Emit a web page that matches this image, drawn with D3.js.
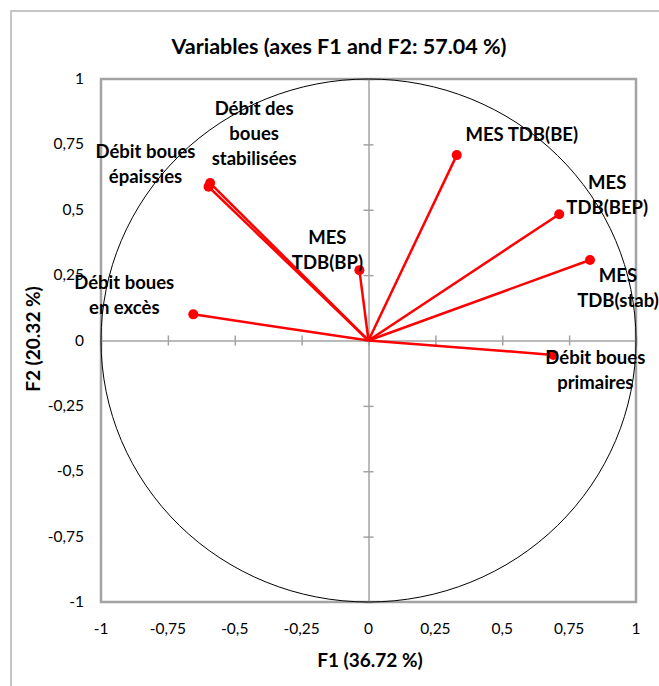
<!DOCTYPE html>
<html>
<head>
<meta charset="utf-8">
<script src="https://cdn.jsdelivr.net/npm/d3@7"></script>
<style>
  html, body { margin: 0; padding: 0; background: #fff; }
  svg { display: block; font-family: Lato, "Open Sans", sans-serif; }
</style>
</head>
<body>
<svg id="chart" width="659" height="686"></svg>
<script>
// Variable coordinates on the first two factorial axes
const variables = [
  "MES TDB(BE)", "MES TDB(BEP)", "MES TDB(stab)", "Débit boues primaires",
  "MES TDB(BP)", "Débit boues en excès", "Débit boues épaissies", "Débit des boues stabilisées"
];
const f1Values = [0.330, 0.713, 0.828, 0.691, -0.034, -0.655, -0.598, -0.592];
const f2Values = [0.709, 0.483, 0.308, -0.055, 0.269, 0.100, 0.588, 0.602];
const tickValues = [-1, -0.75, -0.5, -0.25, 0, 0.25, 0.5, 0.75, 1];
const tickLabels = ["-1", "-0,75", "-0,5", "-0,25", "0", "0,25", "0,5", "0,75", "1"];

// Label text lines and their offsets from each point (layout only)
const labelLines = [
  ["MES TDB(BE)"], ["MES", "TDB(BEP)"], ["MES", "TDB(stab)"], ["Débit boues", "primaires"],
  ["MES", "TDB(BP)"], ["Débit boues", "en excès"], ["Débit boues", "épaissies"],
  ["Débit des", "boues", "stabilisées"]
];
const labelOffsets = [
  [65, -21], [48, -32], [28, 15], [42, 2],
  [-32, -33], [-69, -32], [-63, -36], [44, -75]
];

const svg = d3.select("#chart");
const plotLeft = 101, plotRight = 636, plotTop = 79, plotBottom = 602;

const x = d3.scaleLinear().domain([-1, 1]).range([plotLeft, plotRight]);
const y = d3.scaleLinear().domain([-1, 1]).range([plotBottom, plotTop]);

const gridColor = "#a3a3a3";

// chart frame
svg.append("rect")
  .attr("x", 11).attr("y", 11).attr("width", 720).attr("height", 720)
  .attr("fill", "none").attr("stroke", "#b4b4b4").attr("stroke-width", 1.5);

// title
svg.append("text")
  .attr("x", 339).attr("y", 54)
  .attr("text-anchor", "middle")
  .attr("font-weight", "bold").attr("font-size", 21.5).attr("fill", "#000")
  .text("Variables (axes F1 and F2: 57.04 %)");

// plot border
svg.append("rect")
  .attr("x", plotLeft).attr("y", plotTop)
  .attr("width", plotRight - plotLeft).attr("height", plotBottom - plotTop)
  .attr("fill", "none").attr("stroke", gridColor).attr("stroke-width", 2.5);

// zero axes with crossing ticks
const xAxis = d3.axisBottom(x).tickValues(tickValues).tickFormat("").tickSizeInner(5).tickSizeOuter(0);
const yAxis = d3.axisLeft(y).tickValues(tickValues).tickFormat("").tickSizeInner(5).tickSizeOuter(0);

const gx = svg.append("g").attr("transform", `translate(0,${y(0)})`).call(xAxis);
gx.selectAll(".tick line").attr("y1", -5).attr("y2", 5);
const gy = svg.append("g").attr("transform", `translate(${x(0)},0)`).call(yAxis);
gy.selectAll(".tick line").attr("x1", -5).attr("x2", 5);
[gx, gy].forEach(g => {
  g.select(".domain").attr("stroke", gridColor).attr("stroke-width", 1.5);
  g.selectAll(".tick line").attr("stroke", gridColor).attr("stroke-width", 1.5);
});

// tick labels on the plot edges
svg.append("g").selectAll("text").data(tickValues).join("text")
  .attr("x", d => x(d)).attr("y", 634)
  .attr("text-anchor", "middle").attr("font-size", 15.5).attr("fill", "#000")
  .text((d, i) => tickLabels[i]);
svg.append("g").selectAll("text").data(tickValues).join("text")
  .attr("x", 84).attr("y", d => y(d) + 5)
  .attr("text-anchor", "end").attr("font-size", 15.5).attr("fill", "#000")
  .text((d, i) => tickLabels[i]);

// axis titles
svg.append("text")
  .attr("x", 370).attr("y", 667)
  .attr("text-anchor", "middle").attr("font-weight", "bold").attr("font-size", 19)
  .text("F1 (36.72 %)");
svg.append("text")
  .attr("transform", "translate(40,339) rotate(-90)")
  .attr("text-anchor", "middle").attr("font-weight", "bold").attr("font-size", 19)
  .text("F2 (20.32 %)");

// correlation circle
svg.append("ellipse")
  .attr("cx", x(0)).attr("cy", y(0))
  .attr("rx", x(1) - x(0)).attr("ry", y(0) - y(1))
  .attr("fill", "none").attr("stroke", "#000").attr("stroke-width", 1);

// variable vectors
const pts = variables.map((name, i) => ({ name, f1: f1Values[i], f2: f2Values[i], i }));

svg.append("g").selectAll("line").data(pts).join("line")
  .attr("x1", x(0)).attr("y1", y(0))
  .attr("x2", d => x(d.f1)).attr("y2", d => y(d.f2))
  .attr("stroke", "#ff0000").attr("stroke-width", 2.5);

svg.append("g").selectAll("circle").data(pts).join("circle")
  .attr("cx", d => x(d.f1)).attr("cy", d => y(d.f2)).attr("r", 5)
  .attr("fill", "#ff0000");

// variable labels
const lineHeight = 25;
const labels = svg.append("g").selectAll("text").data(pts).join("text")
  .attr("text-anchor", "middle").attr("font-weight", "bold").attr("font-size", 18.5)
  .attr("fill", "#000");
labels.each(function(d) {
  const [dx, dy] = labelOffsets[d.i];
  const cx = x(d.f1) + dx, cy = y(d.f2) + dy;
  d3.select(this).selectAll("tspan").data(labelLines[d.i]).join("tspan")
    .attr("x", cx).attr("y", (t, k) => cy + k * lineHeight + 7)
    .text(t => t);
});
</script>
</body>
</html>
